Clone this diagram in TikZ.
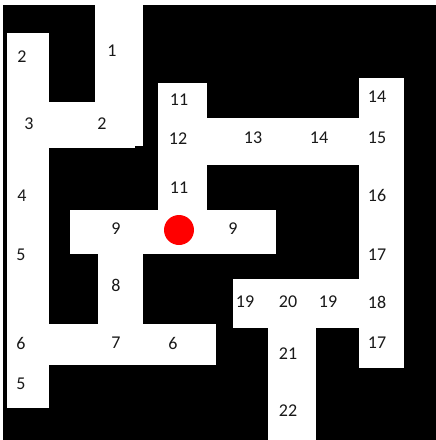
\documentclass[tikz,border=0pt]{standalone}
\usepackage{fontspec}
\setmainfont{Carlito}
\begin{document}
\begin{tikzpicture}[x=1pt,y=-1pt,
  corridor/.style={fill=white,draw=none},
  lbl/.style={font=\fontsize{18}{20}\selectfont,text=black!90,inner sep=0pt}]
\useasboundingbox (0,0) rectangle (436,440);
\fill[white] (0,0) rectangle (436,440);
\fill[black] (3,5) rectangle (436,440);
% corridors
\fill[corridor] (7,33) rectangle (49,408);
\fill[corridor] (95,5) rectangle (143,146);
\fill[corridor] (49,102) rectangle (135,148);
\fill[corridor] (158,83) rectangle (207,210);
\fill[corridor] (158,118) rectangle (404,165);
\fill[corridor] (359,78) rectangle (404,368);
\fill[corridor] (70,210) rectangle (276,254);
\fill[corridor] (98,254) rectangle (143,324);
\fill[corridor] (49,324) rectangle (216,365);
\fill[corridor] (233,279) rectangle (404,328);
\fill[corridor] (268,328) rectangle (316,440);
% red dot
\fill[red] (179,230) circle (15);
% labels
\node[lbl] (a2)  at (22,57) {2};
\node[lbl] (a1)  at (112,51) {1};
\node[lbl] (a3)  at (29,124) {3};
\node[lbl] (b2)  at (102,124) {2};
\node[lbl] (a11) at (179,100) {11};
\node[lbl] (a12) at (178,139) {12};
\node[lbl] (b11) at (179,188) {11};
\node[lbl] (a4)  at (22,196) {4};
\node[lbl] (a14) at (377,97) {14};
\node[lbl] (a13) at (253,138) {13};
\node[lbl] (b14) at (319,138) {14};
\node[lbl] (a15) at (377,138) {15};
\node[lbl] (a16) at (377,195) {16};
\node[lbl] (a9)  at (116,229) {9};
\node[lbl] (b9)  at (233,229) {9};
\node[lbl] (a5)  at (21,255) {5};
\node[lbl] (a17) at (377,255) {17};
\node[lbl] (a8)  at (116,285) {8};
\node[lbl] (a19) at (245,302) {19};
\node[lbl] (a20) at (288,302) {20};
\node[lbl] (b19) at (328,302) {19};
\node[lbl] (a18) at (377,302) {18};
\node[lbl] (a6)  at (21,343) {6};
\node[lbl] (a7)  at (116,343) {7};
\node[lbl] (b6)  at (173,343) {6};
\node[lbl] (b17) at (377,343) {17};
\node[lbl] (b5)  at (21,384) {5};
\node[lbl] (a21) at (288,354) {21};
\node[lbl] (a22) at (288,411) {22};
\end{tikzpicture}
\end{document}
